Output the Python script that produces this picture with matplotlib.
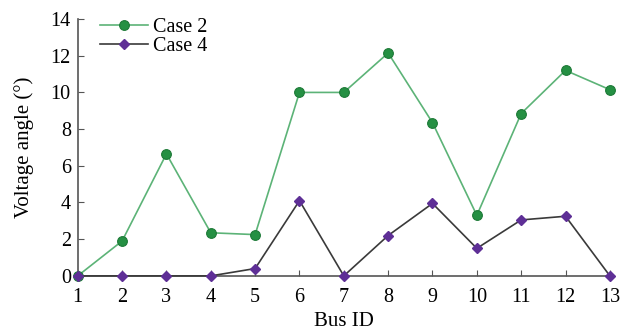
import matplotlib.pyplot as plt

bus_ids = list(range(1, 14))
case2 = [0, 1.9, 6.65, 2.35, 2.25, 10.0, 10.0, 12.15, 8.35, 3.3, 8.85, 11.2, 10.15]
case4 = [0, 0, 0, 0, 0.4, 4.1, 0, 2.2, 3.95, 1.5, 3.05, 3.25, 0]

plt.rcParams['font.family'] = ['Liberation Serif', 'DejaVu Serif']

fig = plt.figure(figsize=(6.32, 3.34), dpi=100)
ax = fig.add_axes([0.123, 0.174, 0.842, 0.769])

ax.plot(bus_ids, case2, color='#5cb377', lw=1.2, marker='o', ms=7,
        mfc='#259043', mec='#1d7a37', mew=0.8, label='Case 2', clip_on=False, zorder=3)
ax.plot(bus_ids, case4, color='#3a3a3a', lw=1.2, marker='D', ms=5.5,
        mfc='#5e2f96', mec='#5e2f96', label='Case 4', clip_on=False, zorder=4)

ax.set_xlim(1, 13)
ax.set_ylim(0, 14)
ax.set_xticks(bus_ids)
ax.set_yticks(range(0, 15, 2))
for s in ['top', 'right']:
    ax.spines[s].set_visible(False)
for s in ['left', 'bottom']:
    ax.spines[s].set_color('#555555')
    ax.spines[s].set_linewidth(1.2)
ax.tick_params(direction='in', length=4, color='#555555', labelsize=14.5)
ax.tick_params(axis='x', pad=9)
ax.tick_params(axis='y', pad=5)
ax.set_xlabel('Bus ID', fontsize=15, labelpad=3)
ax.set_ylabel('Voltage angle (°)', fontsize=15, labelpad=12)

ax.legend(loc='upper left', bbox_to_anchor=(0.015, 1.06), frameon=False, fontsize=14.5,
          handlelength=2.4, handletextpad=0.25, labelspacing=0.0, borderaxespad=0.3)

fig.savefig('out.png', dpi=100)
